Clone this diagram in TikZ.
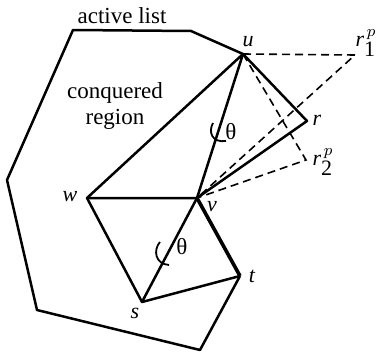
\documentclass[tikz,border=0pt]{standalone}
\usepackage{fontspec}
\setmainfont{Liberation Serif}
\usetikzlibrary{calc}

\begin{document}
\begin{tikzpicture}[
			x=0.5pt, y=-0.5pt,
			edge/.style={line width=1.25pt, line join=round},
			bold/.style={line width=1.8pt},
			proj/.style={dashed, line width=0.8pt, dash pattern=on 4pt off 2.5pt},
			vlabel/.style={font=\fontsize{11}{12}\selectfont\itshape, inner sep=1pt},
			txt/.style={font=\fontsize{11.5}{13}\selectfont, align=center, inner sep=1pt}
			]
			
			\useasboundingbox (0,0) rectangle (380,353);
			
			% vertices
			\coordinate (u) at (243,54);
			\coordinate (v) at (197,198);
			\coordinate (w) at (87,198);
			\coordinate (s) at (142,302);
			\coordinate (t) at (240,276);
			\coordinate (r) at (307,121);
			\coordinate (r1) at (355,55);
			\coordinate (r2) at (306,160);
			
			% boundary of the active list
			\coordinate (b1) at (191,31);
			\coordinate (b2) at (73,30);
			\coordinate (b3) at (7,180);
			\coordinate (b4) at (37,310);
			\coordinate (b5) at (200,350);
			
			\draw[edge] (u) -- (b1) -- (b2) -- (b3) -- (b4) -- (b5) -- (t);
			
			% triangles
			\draw[edge] (u) -- (w) -- (v) -- (u);
			\draw[edge] (u) -- (r) -- (v);
			\draw[edge] (w) -- (s) -- (v);
			\draw[edge] (s) -- (t);
			\draw[bold] (v) -- (t);
			
			% projected points
			\draw[proj] (u) -- (r1) -- (v);
			\draw[proj] (u) -- (r2) -- (v);
			
			% angle marks
			\draw[line width=0.9pt] (213,123) .. controls (208,132) and (212,143) .. (226,141);
			\draw[line width=0.9pt] (160,242) .. controls (153,250) and (155,264) .. (169,265);
			\node[txt] (th1) at (231,132) {θ};
			\node[txt] (th2) at (182,247) {θ};
			
			% labels
			\node[txt] (act) at (122,16) {active list};
			\node[txt] (reg) at (115,106) {conquered\\region};
			\node[vlabel] (lu) at (248,42) {u};
			\node[vlabel] (lv) at (212,207) {ν};
			\node[vlabel] (lw) at (70,197) {w};
			\node[vlabel] (ls) at (135,313) {s};
			\node[vlabel] (lt) at (252,276) {t};
			\node[vlabel] (lr) at (317,120) {r};
			\node[vlabel] (lr1) at (366,43) {r$_{\textup{1}}^{\,p}$};
			\node[vlabel] (lr2) at (323,162) {r$_{\textup{2}}^{\,p}$};
		\end{tikzpicture}
\end{document}
